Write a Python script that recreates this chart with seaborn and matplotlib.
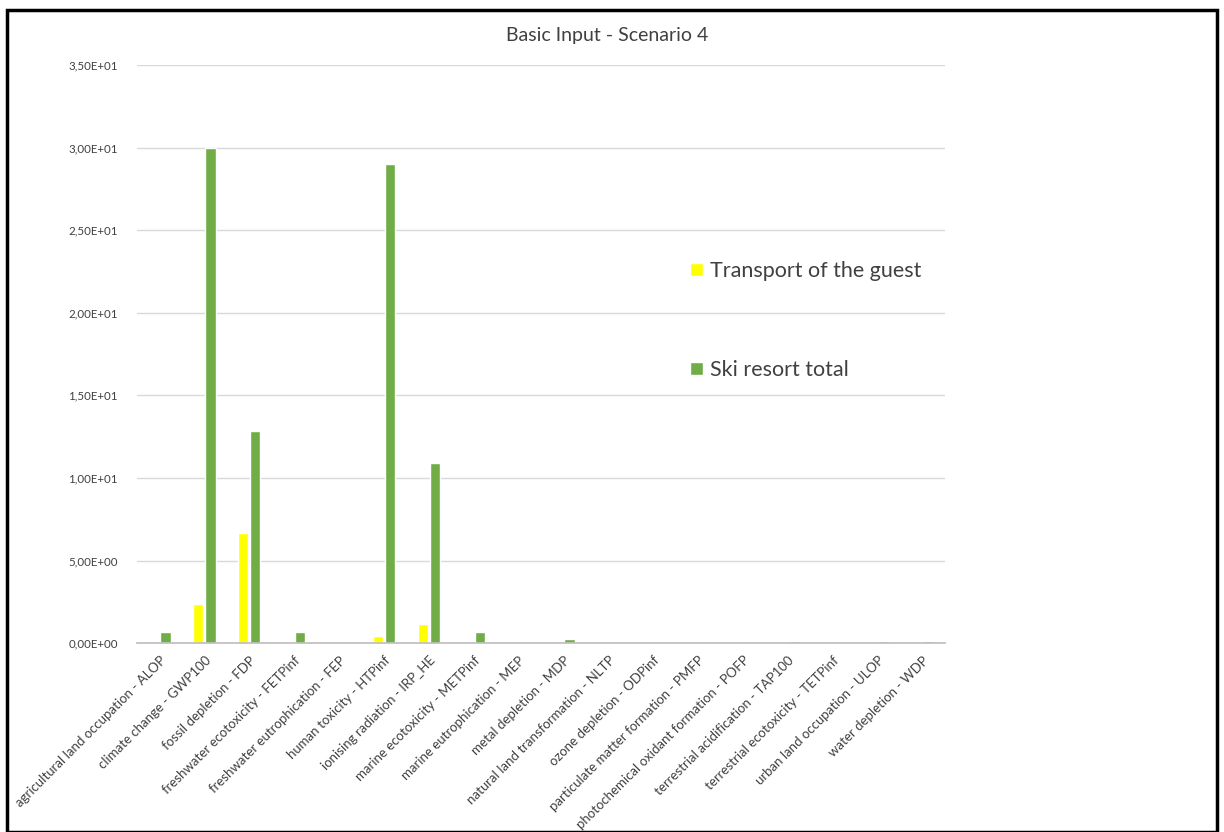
import matplotlib
matplotlib.use("Agg")
import matplotlib.pyplot as plt
import seaborn as sns
import pandas as pd
from matplotlib.ticker import FuncFormatter
from matplotlib.patches import Rectangle

categories = [
    "agricultural land occupation - ALOP",
    "climate change - GWP100",
    "fossil depletion - FDP",
    "freshwater ecotoxicity - FETPinf",
    "freshwater eutrophication - FEP",
    "human toxicity - HTPinf",
    "ionising radiation - IRP_HE",
    "marine ecotoxicity - METPinf",
    "marine eutrophication - MEP",
    "metal depletion - MDP",
    "natural land transformation - NLTP",
    "ozone depletion - ODPinf",
    "particulate matter formation - PMFP",
    "photochemical oxidant formation - POFP",
    "terrestrial acidification - TAP100",
    "terrestrial ecotoxicity - TETPinf",
    "urban land occupation - ULOP",
    "water depletion - WDP",
]
transport = [0.0, 2.35, 6.65, 0.0, 0.0, 0.45, 1.15, 0.0, 0.0, 0.0, 0.0, 0.0, 0.0, 0.0, 0.0, 0.0, 0.0, 0.0]
ski_total = [0.68, 30.0, 12.85, 0.68, 0.0, 29.0, 10.9, 0.68, 0.0, 0.28, 0.0, 0.0, 0.0, 0.0, 0.12, 0.0, 0.11, 0.11]
series_names = ["Transport of the guest", "Ski resort total"]
y_ticks = [0, 5, 10, 15, 20, 25, 30, 35]

df = pd.DataFrame({
    "category": categories * 2,
    "series": [series_names[0]] * len(categories) + [series_names[1]] * len(categories),
    "value": transport + ski_total,
})

sns.set_theme(style="white")
plt.rcParams["font.family"] = ["Lato", "DejaVu Sans"]

fig = plt.figure(figsize=(12.24, 8.32), dpi=100)
ax = fig.add_axes([0.112, 0.227, 0.66, 0.695])

sns.barplot(data=df, x="category", y="value", hue="series",
            palette={series_names[0]: "#FFFF00", series_names[1]: "#70AD47"},
            width=0.54, gap=0.15, ax=ax, saturation=1, legend=True)

ax.set_ylim(0, 35)
ax.set_yticks(y_ticks)
ax.yaxis.set_major_formatter(FuncFormatter(lambda v, p: ("%.2E" % v).replace(".", ",")))
ax.grid(axis="y", color="#D9D9D9", linewidth=1)
ax.set_axisbelow(True)
for s in ["top", "right", "left"]:
    ax.spines[s].set_visible(False)
ax.spines["bottom"].set_color("#BFBFBF")
ax.tick_params(axis="y", length=0, labelsize=8.3, colors="#404040", pad=14)
ax.tick_params(axis="x", length=0, labelsize=9.5, colors="#404040", pad=8)
ax.set_xlim(-0.5, len(categories) - 0.5)
plt.setp(ax.get_xticklabels(), rotation=45, ha="right", rotation_mode="anchor")
ax.set_xlabel("")
ax.set_ylabel("")
fig.text(607 / 1224, 1 - 35 / 832, "Basic Input - Scenario 4", fontsize=14,
         color="#404040", ha="center", va="center")

leg = ax.legend(loc="upper left", bbox_to_anchor=(0.66, 0.694), frameon=False,
                fontsize=15.5, labelspacing=3.66, handlelength=0.6, handleheight=0.6,
                handletextpad=0.35, labelcolor="#404040")

fig.patches.append(Rectangle((0.006, 0.0), 0.988, 0.988, transform=fig.transFigure,
                             fill=False, edgecolor="black", linewidth=2.5))

fig.savefig("out.png", dpi=100, facecolor="white")
